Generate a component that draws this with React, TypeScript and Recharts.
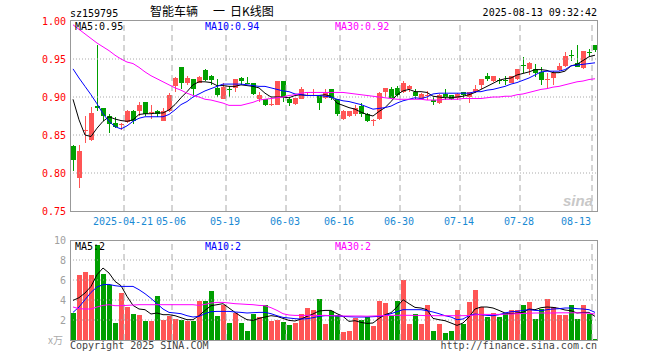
import React from "react";
import {
  ComposedChart,
  Bar,
  Line,
  XAxis,
  YAxis,
  ReferenceLine,
} from "recharts";

// trading days shown, 2025-04-08 .. 2025-08-13
const dates = [
  "04-08", "04-09", "04-10", "04-11", "04-14", "04-15", "04-16", "04-17", "04-18", "04-21",
  "04-22", "04-23", "04-24", "04-25", "04-28", "04-29", "04-30", "05-06", "05-07", "05-08",
  "05-09", "05-12", "05-13", "05-14", "05-15", "05-16", "05-19", "05-20", "05-21", "05-22",
  "05-23", "05-26", "05-27", "05-28", "05-29", "05-30", "06-03", "06-04", "06-05", "06-06",
  "06-09", "06-10", "06-11", "06-12", "06-13", "06-16", "06-17", "06-18", "06-19", "06-20",
  "06-23", "06-24", "06-25", "06-26", "06-27", "06-30", "07-01", "07-02", "07-03", "07-04",
  "07-07", "07-08", "07-09", "07-10", "07-11", "07-14", "07-15", "07-16", "07-17", "07-18",
  "07-21", "07-22", "07-23", "07-24", "07-25", "07-28", "07-29", "07-30", "07-31", "08-01",
  "08-04", "08-05", "08-06", "08-07", "08-08", "08-11", "08-12", "08-13",
];

const opens = [
  0.835, 0.794, 0.855, 0.843, 0.888, 0.885, 0.875, 0.866, 0.863, 0.867,
  0.881, 0.881, 0.893, 0.879, 0.881, 0.869, 0.881, 0.914, 0.940, 0.918,
  0.924, 0.919, 0.935, 0.927, 0.912, 0.897, 0.910, 0.912, 0.925, 0.919,
  0.918, 0.897, 0.897, 0.889, 0.890, 0.921, 0.897, 0.891, 0.897, 0.905,
  0.905, 0.901, 0.899, 0.910, 0.897, 0.871, 0.875, 0.877, 0.888, 0.877,
  0.869, 0.871, 0.906, 0.911, 0.912, 0.906, 0.910, 0.907, 0.898, 0.902,
  0.896, 0.892, 0.904, 0.902, 0.899, 0.907, 0.900, 0.907, 0.916, 0.928,
  0.921, 0.923, 0.922, 0.918, 0.924, 0.942, 0.937, 0.937, 0.933, 0.923,
  0.925, 0.935, 0.941, 0.955, 0.945, 0.938, 0.959, 0.968,
];
const highs = [
  0.837, 0.837, 0.875, 0.887, 0.968, 0.885, 0.877, 0.874, 0.866, 0.883,
  0.883, 0.893, 0.893, 0.889, 0.883, 0.886, 0.905, 0.926, 0.940, 0.928,
  0.924, 0.927, 0.937, 0.929, 0.924, 0.919, 0.914, 0.924, 0.926, 0.926,
  0.918, 0.907, 0.897, 0.897, 0.921, 0.921, 0.899, 0.899, 0.913, 0.907,
  0.911, 0.903, 0.911, 0.910, 0.897, 0.883, 0.882, 0.889, 0.892, 0.879,
  0.871, 0.907, 0.912, 0.913, 0.914, 0.921, 0.916, 0.910, 0.905, 0.908,
  0.900, 0.904, 0.911, 0.903, 0.905, 0.907, 0.907, 0.916, 0.924, 0.931,
  0.928, 0.925, 0.928, 0.928, 0.937, 0.952, 0.946, 0.944, 0.940, 0.931,
  0.934, 0.945, 0.959, 0.962, 0.968, 0.961, 0.963, 0.968,
];
const lows = [
  0.803, 0.780, 0.840, 0.842, 0.881, 0.868, 0.853, 0.859, 0.857, 0.866,
  0.865, 0.875, 0.875, 0.871, 0.874, 0.868, 0.880, 0.907, 0.911, 0.916,
  0.902, 0.918, 0.921, 0.916, 0.900, 0.897, 0.900, 0.906, 0.916, 0.917,
  0.902, 0.893, 0.888, 0.888, 0.889, 0.893, 0.888, 0.890, 0.897, 0.901,
  0.901, 0.883, 0.897, 0.896, 0.875, 0.870, 0.874, 0.875, 0.874, 0.867,
  0.862, 0.870, 0.900, 0.897, 0.900, 0.905, 0.907, 0.897, 0.897, 0.896,
  0.889, 0.891, 0.896, 0.896, 0.896, 0.899, 0.892, 0.905, 0.910, 0.921,
  0.920, 0.917, 0.916, 0.918, 0.923, 0.932, 0.929, 0.926, 0.916, 0.912,
  0.916, 0.934, 0.940, 0.947, 0.940, 0.937, 0.953, 0.959,
];
const closes = [
  0.817, 0.829, 0.857, 0.879, 0.885, 0.875, 0.865, 0.861, 0.865, 0.882,
  0.868, 0.889, 0.877, 0.880, 0.877, 0.881, 0.903, 0.925, 0.918, 0.925,
  0.910, 0.926, 0.922, 0.922, 0.902, 0.913, 0.909, 0.924, 0.921, 0.918,
  0.904, 0.902, 0.889, 0.891, 0.921, 0.900, 0.892, 0.899, 0.911, 0.906,
  0.906, 0.892, 0.905, 0.899, 0.878, 0.882, 0.881, 0.886, 0.878, 0.868,
  0.870, 0.905, 0.912, 0.899, 0.903, 0.918, 0.915, 0.901, 0.904, 0.903,
  0.893, 0.903, 0.900, 0.898, 0.904, 0.902, 0.907, 0.911, 0.924, 0.924,
  0.928, 0.922, 0.921, 0.928, 0.937, 0.941, 0.945, 0.932, 0.923, 0.924,
  0.932, 0.941, 0.954, 0.954, 0.940, 0.961, 0.958, 0.962,
];

// moving averages as drawn on the chart
const ma5 = [
  0.897, 0.870, 0.850, 0.848, 0.859, 0.868, 0.874, 0.871, 0.869, 0.868,
  0.870, 0.877, 0.878, 0.878, 0.879, 0.879, 0.883, 0.890, 0.899, 0.907,
  0.916, 0.920, 0.920, 0.919, 0.915, 0.915, 0.914, 0.914, 0.916, 0.915,
  0.914, 0.912, 0.905, 0.900, 0.900, 0.900, 0.899, 0.902, 0.903, 0.902,
  0.902, 0.902, 0.903, 0.901, 0.892, 0.889, 0.886, 0.884, 0.880, 0.877,
  0.875, 0.881, 0.886, 0.894, 0.903, 0.908, 0.910, 0.907, 0.907, 0.906,
  0.901, 0.900, 0.899, 0.899, 0.900, 0.901, 0.903, 0.906, 0.910, 0.914,
  0.918, 0.922, 0.924, 0.925, 0.929, 0.931, 0.933, 0.936, 0.936, 0.935,
  0.932, 0.932, 0.934, 0.941, 0.943, 0.948, 0.953, 0.955,
];
const ma10 = [
  0.937, 0.925, 0.914, 0.903, 0.891, 0.878, 0.868, 0.861, 0.858, 0.862,
  0.868, 0.872, 0.874, 0.874, 0.874, 0.874, 0.877, 0.883, 0.890, 0.894,
  0.900, 0.904, 0.908, 0.911, 0.914, 0.917, 0.917, 0.917, 0.917, 0.916,
  0.915, 0.914, 0.914, 0.912, 0.910, 0.908, 0.907, 0.904, 0.903, 0.902,
  0.902, 0.902, 0.901, 0.900, 0.897, 0.895, 0.894, 0.892, 0.890, 0.887,
  0.884, 0.885, 0.886, 0.888, 0.892, 0.895, 0.897, 0.899, 0.898, 0.900,
  0.904, 0.905, 0.905, 0.905, 0.905, 0.905, 0.905, 0.907, 0.907, 0.909,
  0.910, 0.912, 0.914, 0.917, 0.919, 0.922, 0.925, 0.929, 0.933, 0.934,
  0.934, 0.934, 0.936, 0.941, 0.942, 0.943, 0.944, 0.945,
];
const ma30 = [
  0.995, 0.989, 0.983, 0.977, 0.971, 0.966, 0.961, 0.955, 0.950, 0.946,
  0.944, 0.939, 0.933, 0.928, 0.924, 0.920, 0.916, 0.912, 0.909, 0.905,
  0.902, 0.900, 0.897, 0.896, 0.894, 0.892, 0.889, 0.889, 0.889, 0.891,
  0.893, 0.896, 0.897, 0.898, 0.899, 0.900, 0.902, 0.903, 0.905, 0.906,
  0.906, 0.906, 0.906, 0.906, 0.906, 0.906, 0.905, 0.904, 0.903, 0.902,
  0.901, 0.900, 0.899, 0.898, 0.897, 0.897, 0.897, 0.897, 0.897, 0.896,
  0.896, 0.896, 0.897, 0.897, 0.897, 0.898, 0.898, 0.898, 0.898, 0.899,
  0.900, 0.900, 0.901, 0.901, 0.903, 0.904, 0.906, 0.908, 0.910, 0.911,
  0.913, 0.914, 0.916, 0.918, 0.920, 0.921, 0.923, 0.924,
];

// volume, in 万
const volumes = [
  2.7, 6.5, 6.85, 6.5, 9.5, 6.6, 5.5, 1.75, 4.7, 3.35,
  2.6, 2.5, 1.95, 1.95, 4.4, 2.0, 2.4, 2.15, 2.0, 1.85,
  1.85, 3.95, 3.95, 4.95, 2.4, 3.5, 1.75, 2.75, 1.75, 0.95,
  2.6, 2.3, 3.5, 1.95, 2.0, 1.8, 1.55, 1.75, 2.6, 3.25,
  3.05, 4.15, 1.65, 2.95, 2.55, 0.85, 0.95, 2.25, 2.0, 2.35,
  1.4, 3.95, 3.75, 2.4, 3.95, 6.0, 1.65, 2.6, 1.65, 3.5,
  0.9, 1.65, 0.7, 0.9, 3.0, 1.65, 3.85, 5.0, 3.3, 2.35,
  2.75, 2.35, 2.75, 3.0, 3.0, 3.5, 3.85, 2.1, 3.1, 4.15,
  3.3, 2.55, 2.55, 3.5, 2.1, 3.5, 2.6, 0.15,
];
const volMa5 = [
  3.96, 4.23, 4.7, 5.36, 6.53, 7.2, 6.7, 5.86, 5.43, 4.36,
  3.46, 3.1, 3.03, 2.6, 2.7, 2.53, 2.53, 2.43, 2.23, 2.03,
  2.03, 2.43, 2.96, 3.43, 3.53, 3.63, 3.2, 2.76, 2.36, 2.03,
  1.96, 2.16, 2.3, 2.43, 2.36, 2.16, 1.96, 1.9, 2.1, 2.36,
  2.6, 2.9, 2.96, 2.96, 2.63, 2.36, 1.86, 1.93, 1.76, 1.66,
  1.7, 2.16, 2.53, 2.73, 3.3, 4.03, 3.63, 3.26, 3.2, 3.03,
  2.16, 2.03, 1.93, 1.7, 1.46, 1.7, 2.3, 3.1, 3.3, 3.3,
  3.2, 2.96, 2.7, 2.63, 2.7, 2.76, 3.1, 3.03, 3.23, 3.3,
  3.26, 3.16, 3.0, 2.93, 2.7, 2.76, 2.76, 2.36,
];
const volMa10 = [
  2.76, 3.3, 4.03, 4.76, 5.3, 5.53, 5.56, 5.43, 5.36, 5.36,
  5.36, 5.03, 4.63, 4.16, 3.63, 3.1, 2.76, 2.7, 2.63, 2.43,
  2.3, 2.36, 2.63, 2.83, 2.86, 2.86, 2.86, 2.8, 2.76, 2.7,
  2.73, 2.76, 2.76, 2.63, 2.43, 2.26, 2.2, 2.13, 2.1, 2.13,
  2.23, 2.36, 2.43, 2.43, 2.4, 2.36, 2.33, 2.3, 2.3, 2.3,
  2.33, 2.36, 2.46, 2.63, 2.83, 3.03, 3.03, 3.03, 3.03, 2.93,
  2.8, 2.63, 2.43, 2.3, 2.03, 2.1, 2.43, 2.6, 2.53, 2.46,
  2.43, 2.53, 2.7, 2.83, 2.86, 2.96, 3.03, 2.96, 2.93, 3.03,
  3.1, 3.13, 3.2, 3.2, 3.13, 3.1, 3.03, 2.76,
];
const volMa30 = [
  3.3, 3.13, 3.1, 3.1, 3.3, 3.46, 3.53, 3.43, 3.43, 3.46,
  3.5, 3.53, 3.53, 3.53, 3.53, 3.53, 3.53, 3.53, 3.53, 3.53,
  3.53, 3.46, 3.56, 3.7, 3.76, 3.76, 3.7, 3.63, 3.6, 3.56,
  3.53, 3.46, 3.43, 3.23, 2.96, 2.63, 2.5, 2.46, 2.46, 2.46,
  2.46, 2.46, 2.46, 2.43, 2.42, 2.4, 2.4, 2.4, 2.4, 2.38,
  2.4, 2.42, 2.46, 2.46, 2.47, 2.47, 2.47, 2.46, 2.46, 2.43,
  2.43, 2.43, 2.43, 2.43, 2.43, 2.43, 2.45, 2.5, 2.56, 2.56,
  2.56, 2.56, 2.58, 2.6, 2.63, 2.66, 2.68, 2.7, 2.7, 2.7,
  2.7, 2.72, 2.72, 2.72, 2.72, 2.7, 2.68, 2.6,
];

const tickDates = ["04-21", "05-06", "05-19", "06-03", "06-16", "06-30", "07-14", "07-28", "08-13"];
const priceTicks = [0.75, 0.8, 0.85, 0.9, 0.95, 1.0];
const volTicks = [2, 4, 6, 8, 10];

const RED = "#ff5555";
const GREEN = "#009f00";
const GRID = "#aaaaaa";
const BORDER = "#999999";
const MONO = "'DejaVu Sans Mono', monospace";

const rows = dates.map((d, i) => ({
  d,
  o: opens[i],
  h: highs[i],
  l: lows[i],
  c: closes[i],
  ma5: ma5[i],
  ma10: ma10[i],
  ma30: ma30[i],
  v: volumes[i],
  vma5: volMa5[i],
  vma10: volMa10[i],
  vma30: volMa30[i],
}));

const isUp = (i: number) => closes[i] >= opens[i];

const Candle = (props: any) => {
  const { x, y, width, height, index } = props;
  const top = Math.min(y, y + height);
  const hh = Math.abs(height);
  const h = highs[index];
  const l = lows[index];
  const o = opens[index];
  const c = closes[index];
  const span = h - l;
  const py = (p: number) => (span === 0 ? top : top + ((h - p) / span) * hh);
  const col = isUp(index) ? RED : GREEN;
  const rx = Math.round(x);
  const cx = rx + 2.5;
  const bTop = Math.round(py(Math.max(o, c)));
  const bBot = Math.round(py(Math.min(o, c)));
  return (
    <g>
      <line x1={cx} x2={cx} y1={Math.round(top)} y2={Math.round(top + hh)} stroke={col} strokeWidth={1} />
      <rect x={rx} y={bTop} width={5} height={Math.max(bBot - bTop, 1)} fill={col} />
    </g>
  );
};

const VolBar = (props: any) => {
  const { x, y, height, index } = props;
  const top = Math.round(Math.min(y, y + height));
  const bot = Math.round(Math.max(y, y + height));
  return <rect x={Math.round(x)} y={top} width={5} height={Math.max(bot - top, 1)} fill={isUp(index) ? RED : GREEN} />;
};

const DateTick = (props: any) => {
  const { x, payload } = props;
  const v = payload.value as string;
  const lineX = x - 3;
  const last = v === "08-13";
  return (
    <text
      x={last ? 591 : lineX - 1}
      y={225}
      textAnchor={last ? "end" : "middle"}
      fill="#1a8ad4"
      fontSize={10}
      fontFamily={MONO}
    >
      {v === "04-21" ? "2025-04-21" : v}
    </text>
  );
};

const PriceTick = (props: any) => {
  const { y, payload } = props;
  return (
    <text x={66} y={y} dy={3.5} textAnchor="end" fill="#ff0000" fontSize={10} fontFamily={MONO}>
      {Number(payload.value).toFixed(2)}
    </text>
  );
};

const VolTick = (props: any) => {
  const { y, payload } = props;
  return (
    <text x={66} y={y} dy={3.5} textAnchor="end" fill="#a0a0a0" fontSize={10} fontFamily={MONO}>
      {payload.value}
    </text>
  );
};

const layer: React.CSSProperties = { position: "absolute", left: 0, top: 0 };

const App: React.FC = () => {
  return (
    <div style={{ position: "absolute", left: 0, top: 0, width: 660, height: 360, background: "#fff" }}>
      <div style={layer}>
        <ComposedChart width={660} height={360} data={rows} margin={{ top: 21, right: 62, bottom: 129, left: 30 }}>
          <XAxis
            dataKey="d"
            height={20}
            ticks={tickDates}
            interval={0}
            minTickGap={0}
            axisLine={false}
            tickLine={false}
            tick={DateTick}
          />
          <YAxis
            domain={[0.75, 1]}
            ticks={priceTicks}
            interval={0}
            allowDataOverflow
            width={40}
            axisLine={false}
            tickLine={false}
            tick={PriceTick}
          />
          {priceTicks.slice(1, -1).map((v) => (
            <ReferenceLine key={v} y={v} stroke={GRID} strokeDasharray="1 2" />
          ))}
          {tickDates.map((d) => (
            <ReferenceLine key={d} x={d} position="start" stroke={GRID} strokeDasharray="6 4" />
          ))}
          <Bar dataKey={(r: any) => [r.l, r.h]} barSize={5} shape={Candle} isAnimationActive={false} />
          <Line dataKey="ma5" stroke="#000000" strokeWidth={1} dot={false} isAnimationActive={false} />
          <Line dataKey="ma10" stroke="#0000ff" strokeWidth={1} dot={false} isAnimationActive={false} />
          <Line dataKey="ma30" stroke="#ff00ff" strokeWidth={1} dot={false} isAnimationActive={false} />
        </ComposedChart>
      </div>
      <div style={layer}>
        <ComposedChart width={660} height={360} data={rows} margin={{ top: 240, right: 62, bottom: 20, left: 30 }}>
          <XAxis dataKey="d" hide />
          <YAxis
            domain={[0, 10]}
            ticks={volTicks}
            interval={0}
            allowDataOverflow
            width={40}
            axisLine={false}
            tickLine={false}
            tick={VolTick}
          />
          {[2, 4, 6, 8].map((v) => (
            <ReferenceLine key={v} y={v} stroke={GRID} strokeDasharray="1 2" />
          ))}
          {tickDates.map((d) => (
            <ReferenceLine key={d} x={d} position="start" stroke={GRID} strokeDasharray="6 4" />
          ))}
          <Bar dataKey="v" barSize={5} shape={VolBar} isAnimationActive={false} />
          <Line dataKey="vma5" stroke="#000000" strokeWidth={1} dot={false} isAnimationActive={false} />
          <Line dataKey="vma10" stroke="#0000ff" strokeWidth={1} dot={false} isAnimationActive={false} />
          <Line dataKey="vma30" stroke="#ff00ff" strokeWidth={1} dot={false} isAnimationActive={false} />
        </ComposedChart>
      </div>
      {/* plot frames */}
      <div style={{ position: "absolute", left: 70, top: 20, width: 528, height: 192, border: `1px solid ${BORDER}`, boxSizing: "border-box" }} />
      <div style={{ position: "absolute", left: 70, top: 240, width: 528, height: 101, border: `1px solid ${BORDER}`, boxSizing: "border-box" }} />
      <svg width={660} height={360} style={layer}>
        <g fontFamily={MONO} fontSize={10}>
          <text x={70} y={16.5} fill="#000">sz159795</text>
          <text x={597} y={16} fill="#000" textAnchor="end">2025-08-13 09:32:42</text>
          <text x={75} y={29.5} fill="#000">MA5:0.95</text>
          <text x={205} y={29.5} fill="#0000ff">MA10:0.94</text>
          <text x={335} y={29.5} fill="#ff00ff">MA30:0.92</text>
          <text x={75} y={250} fill="#000">MA5:2</text>
          <text x={205} y={250} fill="#0000ff">MA10:2</text>
          <text x={335} y={250} fill="#ff00ff">MA30:2</text>
          <text x={70} y={349} fill="#444">Copyright 2025 SINA.COM</text>
          <text x={597} y={349} fill="#444" textAnchor="end">http://finance.sina.com.cn</text>
        </g>
        <text x={48} y={344} fill="#aaa" fontSize={10} fontFamily="'Noto Sans CJK SC', sans-serif">x万</text>
        <g fontFamily="'Noto Sans CJK SC', sans-serif" fontSize={12} fill="#000">
          <text x={150} y={16}>智能车辆</text>
          <text x={213} y={16}>一</text>
          <text x={230} y={16}>日K线图</text>
        </g>
        <text x={593} y={206} textAnchor="end" fill="#c8c8c8" fontSize={15} fontStyle="italic" fontWeight="bold" fontFamily="Arial, sans-serif">sina</text>
      </svg>
    </div>
  );
};

export default App;
